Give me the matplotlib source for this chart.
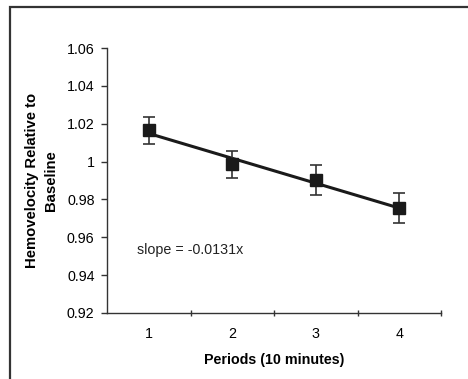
import numpy as np
import matplotlib
matplotlib.use("Agg")
import matplotlib.pyplot as plt
from matplotlib.patches import Rectangle

# data
periods = [1, 2, 3, 4]
hemovelocity = [1.0165, 0.9985, 0.9901, 0.9755]
error = [0.007, 0.007, 0.0079, 0.008]
y_ticks = [0.92, 0.94, 0.96, 0.98, 1.0, 1.02, 1.04, 1.06]
y_tick_labels = ["0.92", "0.94", "0.96", "0.98", "1", "1.02", "1.04", "1.06"]
slope_text = "slope = -0.0131x"

plt.rcParams["font.family"] = ["Liberation Sans", "DejaVu Sans"]

fig = plt.figure(figsize=(4.68, 3.79), dpi=100)
W, H = 468, 379
ax = fig.add_axes([107 / W, 1 - 313 / H, (441 - 107) / W, (313 - 48) / H])

# linear trend line through the points
coef = np.polyfit(periods, hemovelocity, 1)
xs = np.array([periods[0], periods[-1]])
ax.plot(xs, np.polyval(coef, xs), color="#1a1a1a", lw=2.2, zorder=2)

ax.errorbar(periods, hemovelocity, yerr=error, fmt="s", color="#1a1a1a",
            ms=9, ecolor="#333333", elinewidth=1.2, capsize=4, capthick=1.2,
            zorder=3)

ax.text(0.86, 0.9533, slope_text, fontsize=10.3, color="#222222", va="center")

ax.set_xlim(0.5, 4.5)
ax.set_ylim(0.92, 1.06)
ax.set_xticks(periods)
ax.set_xticklabels([str(p) for p in periods])
ax.set_xticks([1.5, 2.5, 3.5, 4.5], minor=True)
ax.tick_params(axis="x", which="major", length=0, pad=10, labelsize=10.3)
ax.tick_params(axis="x", which="minor", length=5, direction="inout", width=1,
               color="#333333")
ax.set_yticks(y_ticks)
ax.set_yticklabels(y_tick_labels)
ax.tick_params(axis="y", length=4, direction="out", width=1, color="#333333",
               labelsize=10.3, pad=5)

for s in ["top", "right"]:
    ax.spines[s].set_visible(False)
for s in ["left", "bottom"]:
    ax.spines[s].set_color("#333333")
    ax.spines[s].set_linewidth(1.0)

ax.set_xlabel("Periods (10 minutes)", fontsize=10.3, fontweight="bold",
              labelpad=9)
ax.set_ylabel("Hemovelocity Relative to\nBaseline", fontsize=10.7,
              fontweight="bold", labelpad=6, linespacing=1.45)

# outer frame of the figure panel
fig.patches.append(Rectangle((10 / W, -0.05), 1.2, 1 - 7 / H + 0.05,
                             transform=fig.transFigure, fill=False,
                             edgecolor="#333333", lw=1.6))

fig.savefig("out.png", dpi=100)
